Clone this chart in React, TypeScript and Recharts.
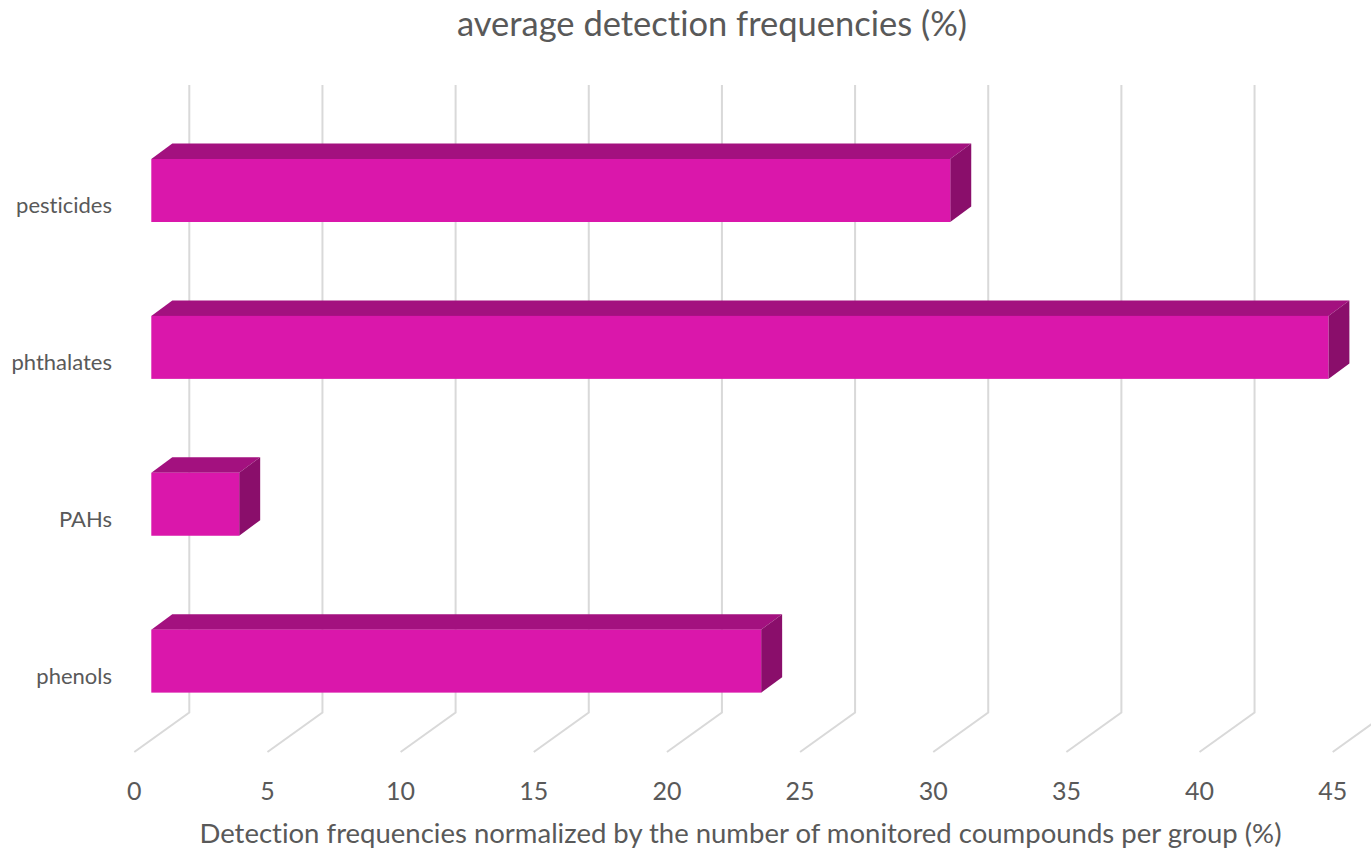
import { BarChart, Bar, XAxis, YAxis, CartesianGrid } from 'recharts';

// Average detection frequency per compound group (%)
const groups = ['pesticides', 'phthalates', 'PAHs', 'phenols'];
const frequencies = [30, 44.2, 3.3, 22.9];
const xTicks = [0, 5, 10, 15, 20, 25, 30, 35, 40, 45];

const chartData = groups.map((name, i) => ({ name, value: frequencies[i] }));

// 3D depth of the floor (front edge -> back wall) and of each bar
const DEPTH_X = 55;
const DEPTH_Y = 39.5;
const BAR_OFFSET_X = 17;
const BAR_OFFSET_Y = 12.5;
const BAR_DX = 21;
const BAR_DY = 15.5;

const FONT = 'Lato, sans-serif';
const TEXT_COLOR = '#595959';

function Bar3D(props: any) {
  const { x, y, width, height } = props;
  if (width == null || width <= 0) return null;
  const fx = x + BAR_OFFSET_X;
  const fy = y - BAR_OFFSET_Y;
  const w = width;
  const h = height;
  return (
    <g>
      <polygon
        points={`${fx},${fy} ${fx + BAR_DX},${fy - BAR_DY} ${fx + w + BAR_DX},${fy - BAR_DY} ${fx + w},${fy}`}
        fill="#a3117f"
      />
      <polygon
        points={`${fx + w},${fy} ${fx + w + BAR_DX},${fy - BAR_DY} ${fx + w + BAR_DX},${fy + h - BAR_DY} ${fx + w},${fy + h}`}
        fill="#8a0e6b"
      />
      <rect x={fx} y={fy} width={w} height={h} fill="#da17ab" />
    </g>
  );
}

// gridline runs along the floor then up the back wall
function GridLine3D(props: any) {
  const { x1, y1, y2, index } = props;
  const d = `M${x1},${y2} L${x1 + DEPTH_X},${y2 - DEPTH_Y} L${x1 + DEPTH_X},${y1 - DEPTH_Y}`;
  return <path key={`grid-${index}-${x1}`} d={d} fill="none" stroke="#d9d9d9" strokeWidth={2} />;
}

function CategoryTick(props: any) {
  const { y, payload } = props;
  return (
    <text x={112} y={y + 2} textAnchor="end" dominantBaseline="central" fill={TEXT_COLOR} fontSize={22} fontFamily={FONT}>
      {payload.value}
    </text>
  );
}

function ValueTick(props: any) {
  const { x, payload } = props;
  return (
    <text x={x} y={790} textAnchor="middle" dominantBaseline="central" fill={TEXT_COLOR} fontSize={25} fontFamily={FONT}>
      {payload.value}
    </text>
  );
}

export default function App() {
  return (
    <div
      style={{
        position: 'absolute',
        left: 0,
        top: 0,
        width: 1371,
        height: 849,
        background: '#fff',
        fontVariantLigatures: 'none',
      }}
    >
      <div
        style={{
          position: 'absolute',
          top: 0,
          left: 0,
          width: 1371,
          paddingLeft: 53,
          boxSizing: 'border-box',
          textAlign: 'center',
          lineHeight: '46px',
          fontSize: 34.5,
          fontFamily: FONT,
          color: TEXT_COLOR,
        }}
      >
        average detection frequencies (%)
      </div>
      <BarChart
        width={1371}
        height={849}
        data={chartData}
        layout="vertical"
        margin={{ top: 124.5, right: 38.3, bottom: 0, left: 0 }}
        barSize={63}
      >
        <CartesianGrid horizontal={false} vertical={GridLine3D} />
        <XAxis
          type="number"
          domain={[0, 45]}
          ticks={xTicks}
          axisLine={false}
          tickLine={false}
          height={97}
          tick={ValueTick}
          interval={0}
        />
        <YAxis
          type="category"
          dataKey="name"
          width={134.3}
          axisLine={false}
          tickLine={false}
          tick={CategoryTick}
        />
        <Bar dataKey="value" shape={Bar3D} isAnimationActive={false} />
      </BarChart>
      <div
        style={{
          position: 'absolute',
          top: 816,
          left: 0,
          width: 1371,
          paddingLeft: 110,
          boxSizing: 'border-box',
          textAlign: 'center',
          lineHeight: '34px',
          fontSize: 27.5,
          fontFamily: FONT,
          color: TEXT_COLOR,
        }}
      >
        Detection frequencies normalized by the number of monitored coumpounds per group (%)
      </div>
    </div>
  );
}
